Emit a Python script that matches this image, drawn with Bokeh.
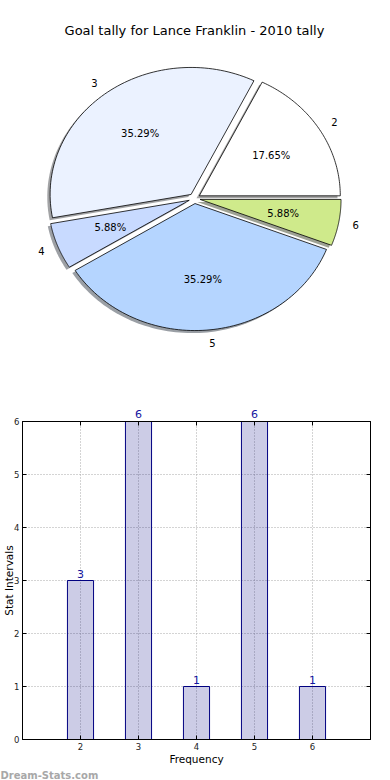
import numpy as np
from bokeh.plotting import figure
from bokeh.models import Range1d, Label, ColumnDataSource, LinearAxis, FixedTicker, Title
from bokeh.core.properties import value
from bokeh.layouts import column
from bokeh.embed import file_html
from bokeh.resources import INLINE

# ---------------- data ----------------
title_text = "Goal tally for Lance Franklin - 2010 tally"
categories = ["2", "3", "4", "5", "6"]
category_values = [2, 3, 4, 5, 6]
tally = [3, 6, 1, 6, 1]
slice_colors = ["#ffffff", "#ebf2ff", "#c8daff", "#b5d5ff", "#cfea8b"]
y_ticks = [0, 1, 2, 3, 4, 5, 6]
x_label = "Frequency"
y_label = "Stat Intervals"
watermark = "Dream-Stats.com"

FONT = "DejaVu Sans"
BAR_TEXT = "#1414a0"

W = 390
L_BORDER, R_BORDER = 22, 20

# ---------------- pie figure ----------------
H1 = 392
p1 = figure(width=W, height=H1, x_range=Range1d(L_BORDER, W - R_BORDER), y_range=Range1d(H1, 0),
            output_backend="svg", toolbar_location=None, x_axis_type=None, y_axis_type=None,
            min_border=0, min_border_left=L_BORDER, min_border_right=R_BORDER)
p1.grid.visible = False
p1.outline_line_color = None

cx, cy = 194.0, 198.0
rx, ry = 141.0, 127.0
explode = 0.04
shadow_dx, shadow_dy = -0.02 * rx, 0.02 * ry

vals = np.array(tally, dtype=float)
frac = vals / vals.sum()
edges = np.concatenate([[0.0], np.cumsum(frac)]) * 2 * np.pi

xs, ys, sxs, sys_, shadow_cols = [], [], [], [], []
lab_l = {"x": [], "y": [], "t": []}
lab_r = {"x": [], "y": [], "t": []}
pct = {"x": [], "y": [], "t": []}
for i, cat in enumerate(categories):
    t1, t2 = edges[i], edges[i + 1]
    mid = 0.5 * (t1 + t2)
    ox = explode * rx * np.cos(mid)
    oy = -explode * ry * np.sin(mid)
    th = np.linspace(t1, t2, 80)
    px = np.concatenate([[cx + ox], cx + ox + rx * np.cos(th)])
    py = np.concatenate([[cy + oy], cy + oy - ry * np.sin(th)])
    xs.append(list(px))
    ys.append(list(py))
    sxs.append(list(px + shadow_dx))
    sys_.append(list(py + shadow_dy))
    c = slice_colors[i].lstrip("#")
    r, g, b = (int(c[k:k + 2], 16) for k in (0, 2, 4))
    shadow_cols.append("#%02x%02x%02x" % (int(r * 0.3), int(g * 0.3), int(b * 0.3)))
    lx = cx + ox + 1.1 * rx * np.cos(mid)
    ly = cy + oy - 1.1 * ry * np.sin(mid)
    tgt = lab_l if np.cos(mid) > 0 else lab_r
    tgt["x"].append(lx); tgt["y"].append(ly); tgt["t"].append(cat)
    pct["x"].append(cx + ox + 0.6 * rx * np.cos(mid))
    pct["y"].append(cy + oy - 0.6 * ry * np.sin(mid))
    pct["t"].append("%.2f%%" % (frac[i] * 100))

p1.patches(sxs, sys_, fill_color=shadow_cols, fill_alpha=0.5, line_color=None)
p1.patches(xs, ys, fill_color=slice_colors, line_color="black", line_width=0.8)
for src, al in ((lab_l, "left"), (lab_r, "right"), (pct, "center")):
    p1.text("x", "y", text="t", source=ColumnDataSource(src), text_align=al,
            text_baseline="middle", text_font=value(FONT), text_font_size="10px",
            text_color="black")
p1.add_layout(Label(x=194, y=30, text=title_text, text_align="center", text_baseline="middle",
                    text_font=FONT, text_font_size="13px", text_color="black"))

# ---------------- bar figure ----------------
H2 = 780 - H1
TOP_B, BOT_B = 421 - H1, 780 - 740
y_max = max(y_ticks)
p2 = figure(width=W, height=H2, x_range=Range1d(1, 7), y_range=Range1d(0, y_max),
            output_backend="svg", toolbar_location=None,
            min_border_top=TOP_B, min_border_right=R_BORDER, min_border_bottom=BOT_B,
            min_border_left=L_BORDER)
p2.vbar(x=category_values, top=tally, width=0.45, fill_color="navy", fill_alpha=0.2,
        line_color="navy", line_width=1)
# value labels that fit inside the frame
for xv, yv in zip(category_values, tally):
    if yv < y_max:
        p2.add_layout(Label(x=xv, y=yv, text=str(yv), text_align="center",
                            text_baseline="bottom", y_offset=3, text_font=FONT,
                            text_font_size="11px", text_color=BAR_TEXT))

top_axis = LinearAxis(ticker=FixedTicker(ticks=category_values))
right_axis = LinearAxis(ticker=FixedTicker(ticks=y_ticks))
p2.add_layout(top_axis, "above")
p2.add_layout(right_axis, "right")
p2.below[0].ticker = FixedTicker(ticks=category_values)
p2.left[0].ticker = FixedTicker(ticks=y_ticks)
p2.xgrid.ticker = FixedTicker(ticks=category_values)
p2.ygrid.ticker = FixedTicker(ticks=y_ticks)
p2.grid.grid_line_color = "#a8a8a8"
p2.grid.grid_line_dash = "1 2"
p2.grid.grid_line_width = 1
p2.outline_line_color = "black"
p2.outline_line_width = 1
for ax in p2.axis:
    ax.major_tick_in = 4
    ax.major_tick_out = 0
    ax.minor_tick_in = 0
    ax.minor_tick_out = 0
    ax.minor_tick_line_color = None
    ax.axis_line_color = "black"
    ax.major_label_text_font = FONT
    ax.major_label_text_font_size = "8.5px"
    ax.major_label_text_color = "#222222"
    ax.major_label_standoff = 3
    ax.axis_label_text_font = FONT
    ax.axis_label_text_font_size = "10.5px"
    ax.axis_label_text_font_style = "normal"
    ax.axis_label_text_color = "black"

# value labels of bars that reach the top edge sit above the frame
top_axis.major_label_overrides = {xv: (str(yv) if yv >= y_max else "")
                                  for xv, yv in zip(category_values, tally)}
top_axis.major_label_text_color = BAR_TEXT
top_axis.major_label_text_font_size = "11px"
top_axis.major_label_standoff = 4
right_axis.major_label_text_color = None
right_axis.major_label_standoff = 0

p2.below[0].axis_label = x_label
p2.below[0].axis_label_standoff = 0
p2.left[0].axis_label = y_label
p2.left[0].axis_label_standoff = -4

p2.add_layout(Title(text=watermark, align="left", offset=-L_BORDER, standoff=0,
                    text_font=FONT, text_font_style="bold", text_font_size="10px",
                    text_color="#a8a8a8"), "below")

layout = column(p1, p2, spacing=0)
open("out.html", "w").write(file_html(layout, INLINE))
